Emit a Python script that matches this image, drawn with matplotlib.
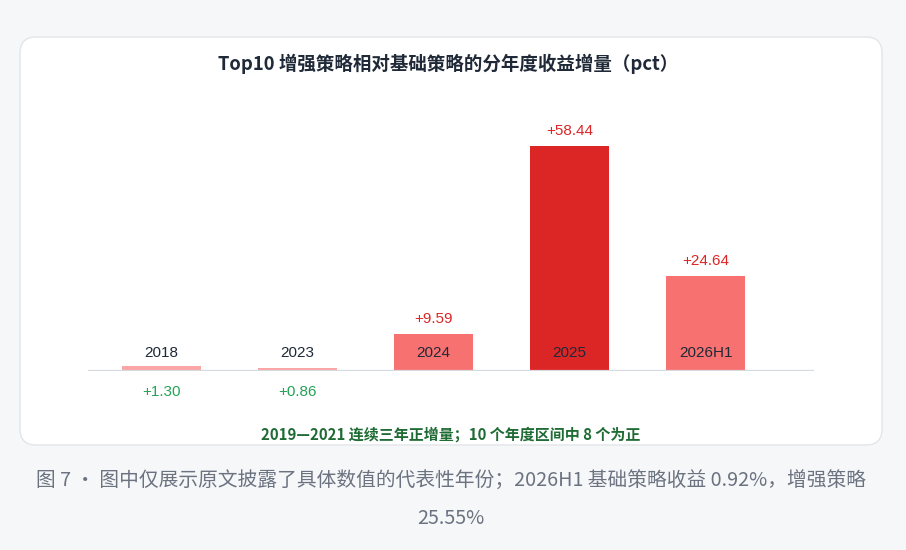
import matplotlib.pyplot as plt
from matplotlib.patches import FancyBboxPatch

plt.rcParams['font.family'] = ['Liberation Sans', 'Noto Sans CJK SC', 'DejaVu Sans']

# 数据
years = ['2018', '2023', '2024', '2025', '2026H1']
delta = [1.30, 0.86, 9.59, 58.44, 24.64]

title = 'Top10 增强策略相对基础策略的分年度收益增量（pct）'
note = '2019—2021 连续三年正增量；10 个年度区间中 8 个为正'
caption_1 = '图 7 · 图中仅展示原文披露了具体数值的代表性年份；2026H1 基础策略收益 0.92%，增强策略'
caption_2 = '25.55%'

W, H = 906, 550
fig = plt.figure(figsize=(W / 100, H / 100), dpi=100, facecolor='#f6f7f9')

# 背景层，像素坐标
bg = fig.add_axes([0, 0, 1, 1])
bg.set_xlim(0, W)
bg.set_ylim(H, 0)
bg.axis('off')
card = FancyBboxPatch((20, 37), 862, 408, boxstyle='round,pad=0,rounding_size=16',
                      facecolor='white', edgecolor='#e3e5ea', linewidth=1)
bg.add_patch(card)
cjk = ['Noto Sans CJK SC', 'DejaVu Sans']
bg.text(448, 64, title, ha='center', va='center', fontsize=13.3, fontweight='bold',
        color='#1f2937', family=cjk)
bg.text(451, 435, note, ha='center', va='center', fontsize=10.8, fontweight='bold',
        color='#1f6b34', family=cjk)
bg.text(451, 481, caption_1, ha='center', va='center', fontsize=14.2,
        color='#6b7280', family=cjk)
bg.text(451, 518, caption_2, ha='center', va='center', fontsize=14.2,
        color='#6b7280', family=cjk)

# 柱状图
ax = fig.add_axes([88 / W, (H - 371) / H, (814 - 88) / W, 271 / H])
ax.patch.set_alpha(0)
x = list(range(len(years)))
top = max(delta)
colors = []
for v in delta:
    if v == top:
        colors.append('#dc2626')
    elif v > 5:
        colors.append('#f87171')
    else:
        colors.append('#fca5a5')
ax.bar(x, delta, width=0.58, color=colors, zorder=2)
ax.axhline(0, color='#d5d9e0', linewidth=1.6, zorder=3)
ax.set_xlim(-0.536, 4.793)
ax.set_ylim(0, 271 / 3.85)
for s in ax.spines.values():
    s.set_visible(False)
ax.set_xticks([])
ax.set_yticks([])

for i, (yr, v) in enumerate(zip(years, delta)):
    ax.annotate(yr, (i, 0), xytext=(0, 18), textcoords='offset pixels',
                ha='center', va='center', fontsize=11, color='#1f2937', zorder=4)
    if v > 5:
        ax.annotate(f'+{v:.2f}', (i, v), xytext=(0, 15), textcoords='offset pixels',
                    ha='center', va='center', fontsize=11, color='#dc2626', zorder=4)
    else:
        ax.annotate(f'+{v:.2f}', (i, 0), xytext=(0, -21), textcoords='offset pixels',
                    ha='center', va='center', fontsize=11, color='#22a355', zorder=4)

fig.savefig('out.png', dpi=100, facecolor=fig.get_facecolor())
